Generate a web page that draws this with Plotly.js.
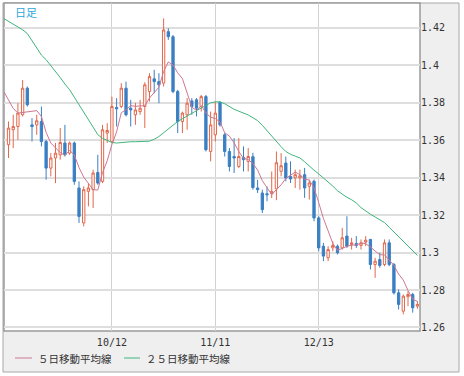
<!DOCTYPE html>
<html><head><meta charset="utf-8">
<script src="https://cdn.plot.ly/plotly-3.0.1.min.js"></script>
<style>html,body{margin:0;padding:0;background:#fff}#chart{width:464px;height:376px}</style>
</head><body><div id="chart"></div>
<script>
// ---- data ----
const tickIndex = [22, 44, 66];
const tickLabels = ['10/12', '11/11', '12/13'];
const chartTitle = '日足';
const seriesNames = ['５日移動平均線', '２５日移動平均線'];

const openP = [1.3576,1.3656,1.3673,1.3736,1.3878,1.3682,1.3682,1.3700,1.3593,1.3451,
1.3505,1.3522,1.3585,1.3531,1.3585,1.3345,1.3158,1.3327,1.3336,1.3428,
1.3380,1.3638,1.3593,1.3775,1.3780,1.3878,1.3771,1.3736,1.3753,1.3780,
1.3860,1.3928,1.3913,1.3905,1.4180,1.4153,1.3860,1.3700,1.3736,1.3810,
1.3816,1.3780,1.3833,1.3540,1.3629,1.3803,1.3629,1.3540,1.3513,1.3460,
1.3508,1.3487,1.3512,1.3345,1.3318,1.3314,1.3314,1.3340,1.3434,1.3478,
1.3407,1.3399,1.3399,1.3416,1.3354,1.3381,1.3185,1.3034,1.2972,1.3025,
1.3034,1.3025,1.3088,1.3043,1.3048,1.3038,1.3056,1.3070,1.2936,1.2963,
1.2936,1.3052,1.2936,1.2785,1.2687,1.2764,1.2776,1.2714];
const highP = [1.3700,1.3736,1.3798,1.3922,1.3887,1.3718,1.3736,1.3780,1.3602,1.3531,
1.3585,1.3665,1.3682,1.3593,1.3593,1.3380,1.3354,1.3371,1.3442,1.3522,
1.3682,1.3691,1.3833,1.3825,1.3905,1.3913,1.3816,1.3800,1.3816,1.3910,
1.3958,1.3976,1.3958,1.4251,1.4198,1.4162,1.3869,1.3753,1.3825,1.3825,
1.3825,1.3842,1.3842,1.3753,1.3807,1.3807,1.3638,1.3558,1.3611,1.3611,
1.3567,1.3558,1.3533,1.3389,1.3336,1.3353,1.3433,1.3540,1.3531,1.3513,
1.3487,1.3443,1.3443,1.3452,1.3390,1.3390,1.3194,1.3052,1.3034,1.3061,
1.3043,1.3132,1.3194,1.3079,1.3088,1.3070,1.3088,1.3073,1.2972,1.2999,
1.3070,1.3070,1.2945,1.2803,1.2776,1.2794,1.2785,1.2740];
const lowP = [1.3505,1.3558,1.3602,1.3727,1.3780,1.3593,1.3629,1.3567,1.3389,1.3407,
1.3371,1.3496,1.3513,1.3522,1.3362,1.3158,1.3140,1.3247,1.3238,1.3362,
1.3371,1.3585,1.3593,1.3673,1.3771,1.3727,1.3673,1.3682,1.3736,1.3665,
1.3807,1.3851,1.3798,1.3887,1.4136,1.3851,1.3638,1.3638,1.3656,1.3736,
1.3727,1.3753,1.3540,1.3487,1.3593,1.3673,1.3513,1.3433,1.3425,1.3451,
1.3433,1.3433,1.3336,1.3318,1.3211,1.3274,1.3291,1.3280,1.3407,1.3380,
1.3372,1.3345,1.3336,1.3292,1.3283,1.3167,1.3007,1.2954,1.2954,1.3007,
1.2990,1.3016,1.3025,1.3016,1.3025,1.3016,1.3034,1.2910,1.2865,1.2919,
1.2927,1.2927,1.2776,1.2696,1.2670,1.2714,1.2679,1.2700];
const closeP = [1.3665,1.3673,1.3745,1.3878,1.3789,1.3673,1.3704,1.3593,1.3451,1.3505,
1.3531,1.3588,1.3522,1.3585,1.3380,1.3193,1.3336,1.3345,1.3425,1.3371,
1.3656,1.3652,1.3780,1.3768,1.3878,1.3736,1.3762,1.3762,1.3771,1.3896,
1.3940,1.3913,1.3896,1.4189,1.4153,1.3860,1.3700,1.3745,1.3798,1.3780,
1.3771,1.3833,1.3549,1.3682,1.3745,1.3682,1.3540,1.3460,1.3505,1.3513,
1.3496,1.3513,1.3347,1.3336,1.3229,1.3309,1.3327,1.3480,1.3464,1.3398,
1.3393,1.3416,1.3410,1.3345,1.3372,1.3185,1.3025,1.2981,1.3016,1.3038,
1.2999,1.3079,1.3034,1.3052,1.3038,1.3052,1.3066,1.2936,1.2954,1.2931,
1.3052,1.2936,1.2785,1.2723,1.2767,1.2776,1.2705,1.2723];

// moving averages, starting one day before the first visible candle
const ma5 = [1.3860,1.3815,1.3770,1.3745,1.3748,1.3750,1.3752,1.3758,1.3727,1.3642,
1.3585,1.3557,1.3534,1.3519,1.3546,1.3521,1.3454,1.3403,1.3368,1.3336,
1.3334,1.3427,1.3490,1.3577,1.3645,1.3747,1.3763,1.3785,1.3781,1.3782,
1.3785,1.3826,1.3856,1.3883,1.3967,1.4018,1.4002,1.3960,1.3929,1.3851,
1.3777,1.3759,1.3785,1.3746,1.3723,1.3716,1.3698,1.3640,1.3622,1.3586,
1.3540,1.3503,1.3497,1.3475,1.3441,1.3384,1.3347,1.3310,1.3336,1.3362,
1.3396,1.3412,1.3430,1.3416,1.3392,1.3387,1.3346,1.3267,1.3182,1.3116,
1.3049,1.3012,1.3023,1.3033,1.3040,1.3040,1.3051,1.3048,1.3029,1.3009,
1.2988,1.2988,1.2962,1.2932,1.2885,1.2853,1.2797,1.2751,1.2739];
const ma25 = [1.4250,1.4235,1.4220,1.4205,1.4190,1.4170,1.4130,1.4090,1.4055,1.4030,
1.4000,1.3970,1.3935,1.3900,1.3870,1.3830,1.3790,1.3755,1.3715,1.3670,
1.3630,1.3610,1.3600,1.3588,1.3585,1.3588,1.3590,1.3592,1.3592,1.3592,
1.3592,1.3595,1.3605,1.3620,1.3640,1.3660,1.3685,1.3700,1.3715,1.3730,
1.3742,1.3758,1.3772,1.3785,1.3800,1.3805,1.3805,1.3795,1.3780,1.3765,
1.3755,1.3747,1.3735,1.3720,1.3705,1.3680,1.3650,1.3620,1.3590,1.3565,
1.3540,1.3525,1.3515,1.3505,1.3485,1.3460,1.3440,1.3420,1.3400,1.3380,
1.3355,1.3330,1.3310,1.3295,1.3282,1.3265,1.3240,1.3220,1.3205,1.3190,
1.3175,1.3160,1.3135,1.3110,1.3085,1.3065,1.3040,1.3010,1.2985];

// ---- styles ----
const upColor = '#e2684c';
const downColor = '#3a7fc3';
const ma5Color = '#cf7791';
const ma25Color = '#3fb57c';

const days = openP.map((_, i) => i);
const maDays = ma5.map((_, i) => i - 1);

const traces = [
  {
    type: 'candlestick', x: days, open: openP, high: highP, low: lowP, close: closeP,
    increasing: {line: {color: upColor, width: 1}, fillcolor: '#ffffff'},
    decreasing: {line: {color: downColor, width: 1}, fillcolor: downColor},
    whiskerwidth: 0, hoverinfo: 'skip', showlegend: false
  },
  {type: 'scatter', mode: 'lines', x: maDays, y: ma25, name: seriesNames[1],
   line: {color: ma25Color, width: 1}, hoverinfo: 'skip'},
  {type: 'scatter', mode: 'lines', x: maDays, y: ma5, name: seriesNames[0],
   line: {color: ma5Color, width: 1}, hoverinfo: 'skip'}
];

// pixel helpers for paper coordinates (plot area: x 4..420, y 3..331)
const W = 416, H = 328;
const px = v => (v - 4) / W;
const py = v => (331 - v) / H;
const tickFont = {family: 'DejaVu Sans Mono, monospace', size: 10, color: '#333333'};
const legFont = {family: 'Noto Sans CJK JP, sans-serif', size: 10.5, color: '#333333'};

const layout = {
  width: 464, height: 376,
  margin: {l: 4, r: 44, t: 3, b: 45, pad: 0},
  paper_bgcolor: '#ffffff', plot_bgcolor: '#ffffff',
  showlegend: false,
  xaxis: {
    range: [-0.96, 87.55], tickvals: tickIndex, ticktext: tickLabels,
    showgrid: true, gridcolor: '#d2d2d2', gridwidth: 1,
    zeroline: false, showline: false, ticks: '', tickfont: tickFont,
    ticklabelstandoff: 4,
    rangeslider: {visible: false}, fixedrange: true
  },
  yaxis: {
    side: 'right', range: [1.2581, 1.4333], tick0: 1.26, dtick: 0.02,
    showgrid: true, gridcolor: '#dedede', gridwidth: 2,
    zeroline: false, showline: false, ticks: '', tickfont: tickFont,
    fixedrange: true
  },
  shapes: [
    {type: 'rect', xref: 'paper', yref: 'paper', layer: 'below',
     x0: px(3), x1: px(459), y0: py(372), y1: py(3),
     fillcolor: '#efefef', line: {color: '#a8a8a8', width: 1}},
    {type: 'rect', xref: 'paper', yref: 'paper', layer: 'below',
     x0: 0, x1: 1, y0: 0, y1: 1,
     fillcolor: '#ffffff', line: {color: '#9a9a9a', width: 1.5}},
    {type: 'line', xref: 'paper', yref: 'paper', layer: 'above',
     x0: px(15), x1: px(32), y0: py(358), y1: py(358),
     line: {color: ma5Color, width: 1}},
    {type: 'line', xref: 'paper', yref: 'paper', layer: 'above',
     x0: px(124), x1: px(140), y0: py(358), y1: py(358),
     line: {color: ma25Color, width: 1}}
  ],
  annotations: [
    {xref: 'paper', yref: 'paper', x: px(13), y: py(12.5), xanchor: 'left', yanchor: 'middle',
     text: chartTitle, showarrow: false, font: {family: 'Noto Sans CJK JP, sans-serif', size: 11, color: '#2ea6d9'}},
    {xref: 'paper', yref: 'paper', x: px(36), y: py(358), xanchor: 'left', yanchor: 'middle',
     text: seriesNames[0], showarrow: false, font: legFont},
    {xref: 'paper', yref: 'paper', x: px(144), y: py(358), xanchor: 'left', yanchor: 'middle',
     text: seriesNames[1], showarrow: false, font: legFont}
  ]
};

Plotly.newPlot('chart', traces, layout, {staticPlot: true, displayModeBar: false});
</script>
</body></html>
